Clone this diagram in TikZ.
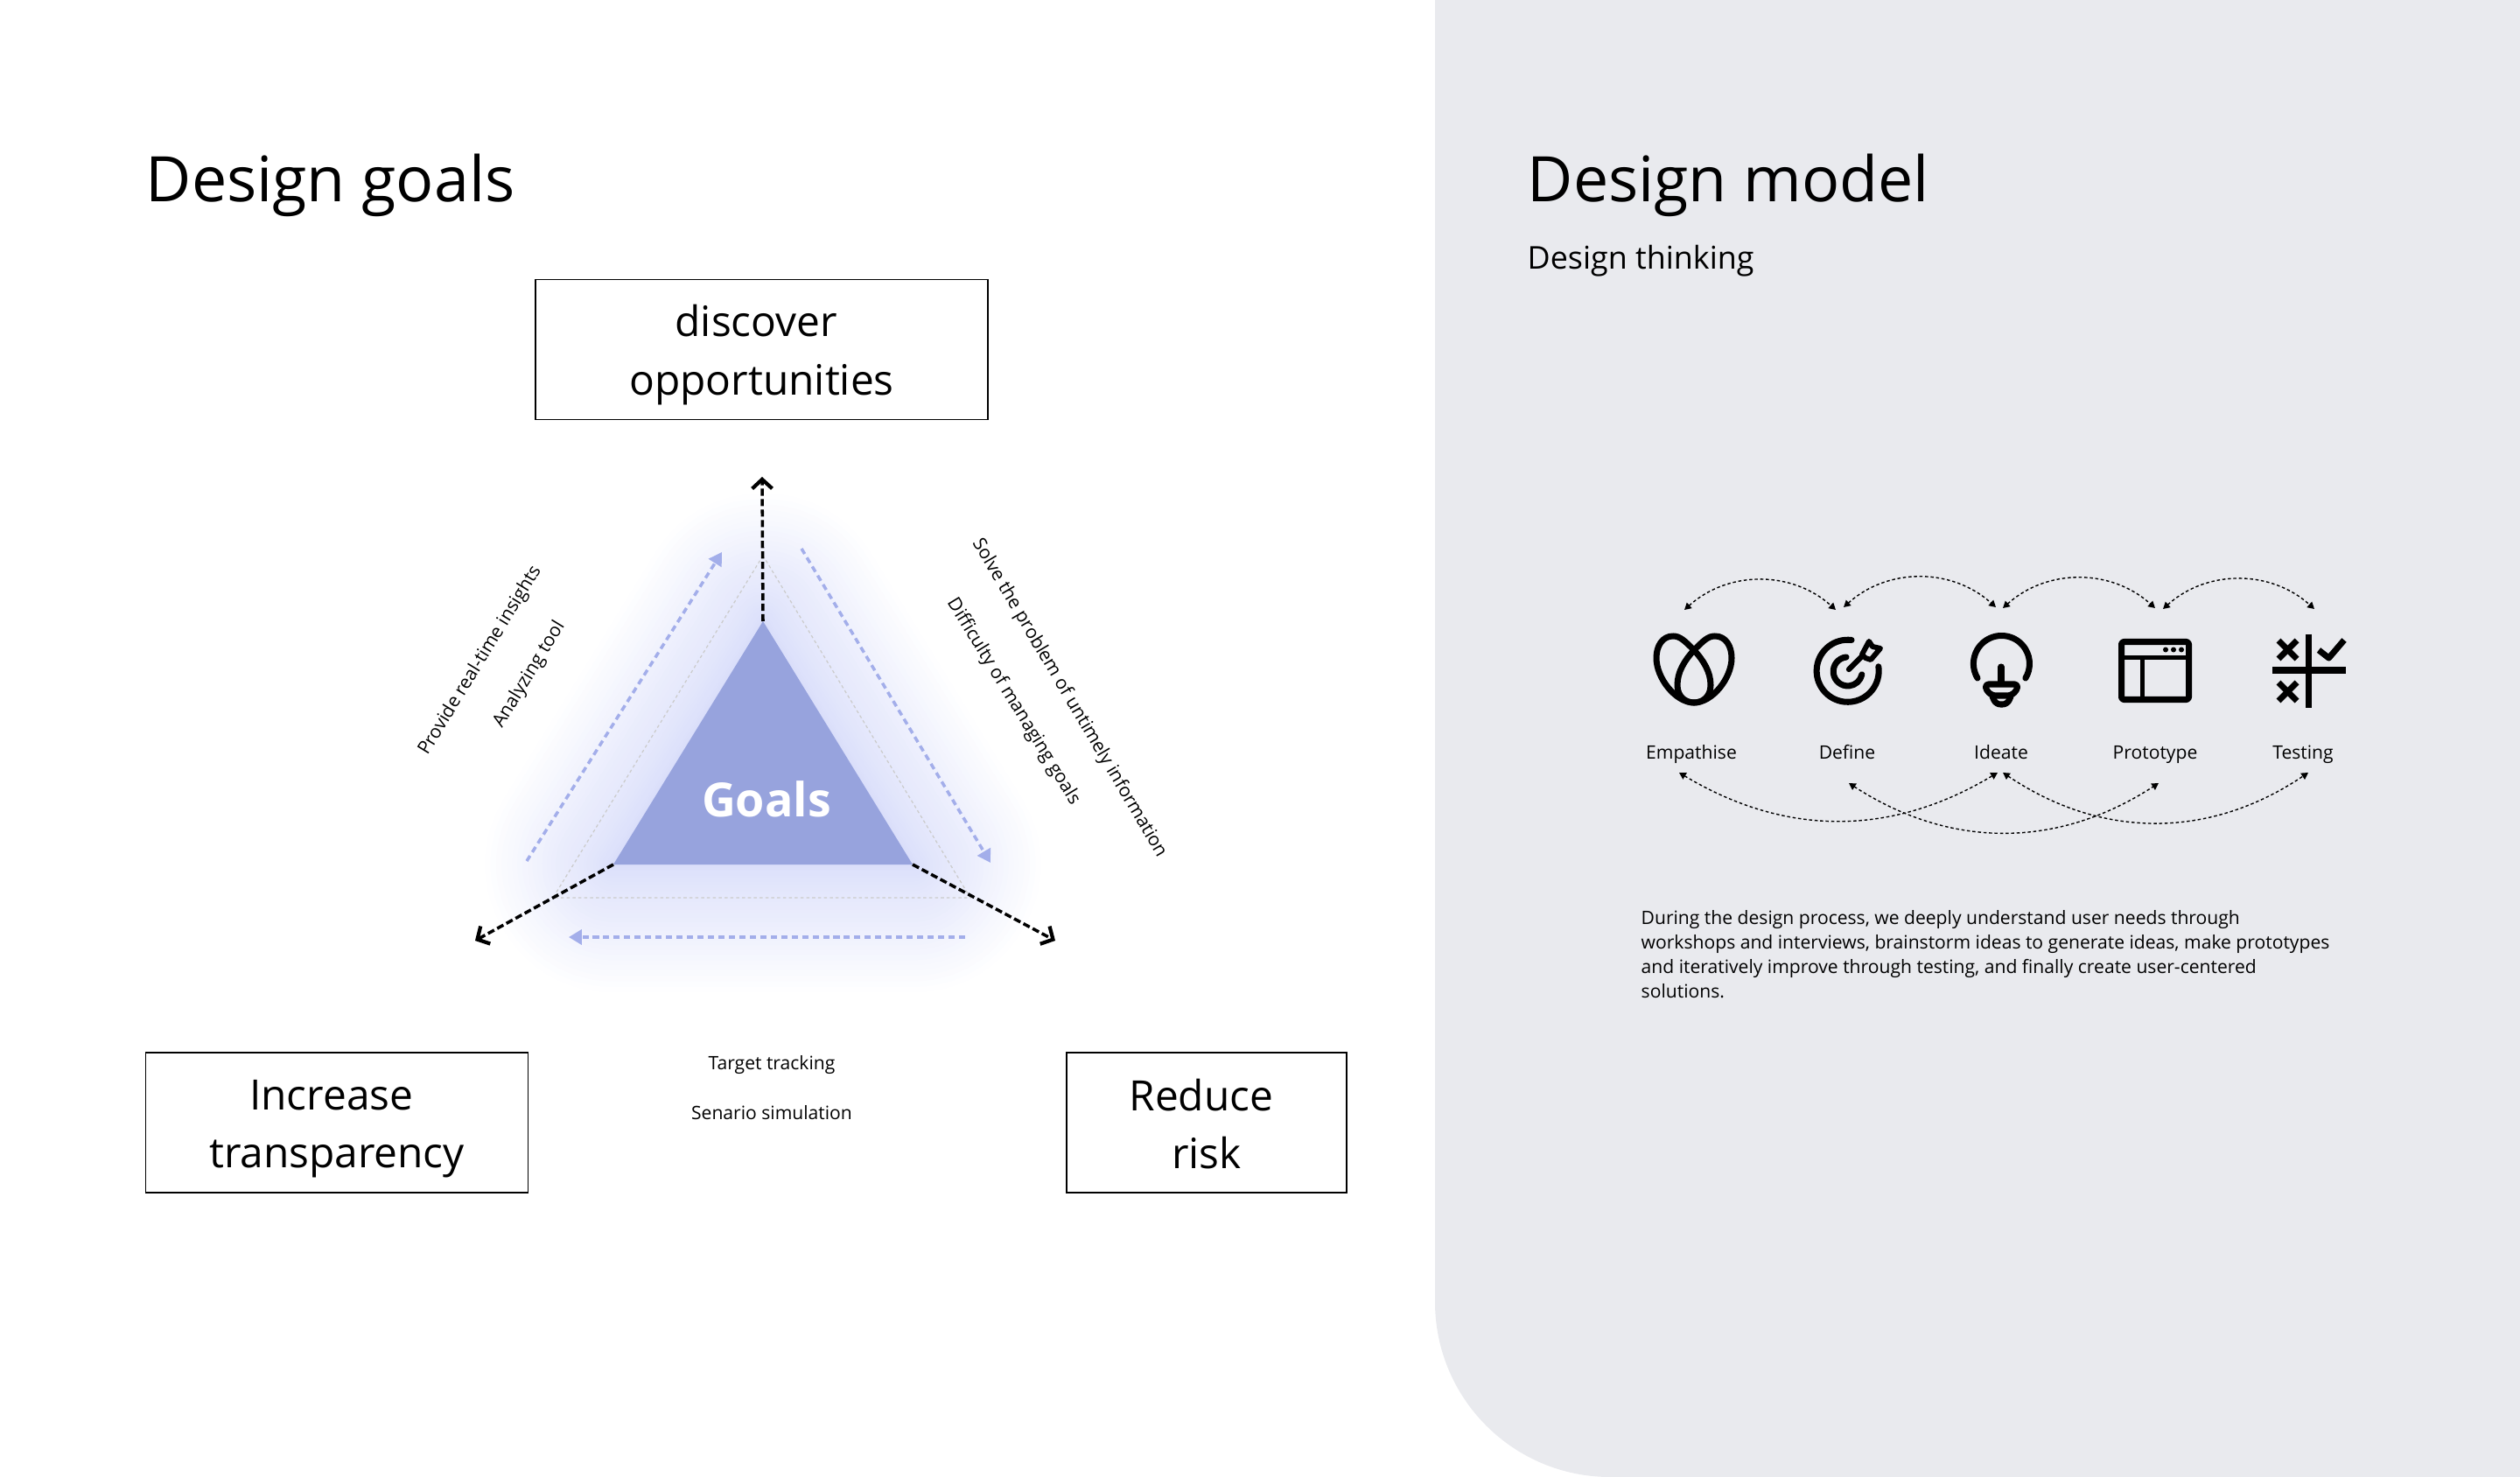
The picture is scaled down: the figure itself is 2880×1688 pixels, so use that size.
\documentclass[tikz,border=0pt]{standalone}
\usepackage{fontspec}
\setmainfont{Open Sans}
\usetikzlibrary{arrows.meta, positioning}
\definecolor{panelgray}{HTML}{E9EAEE}
\definecolor{goalblue}{HTML}{97A3DD}
\definecolor{flowblue}{HTML}{A3AEEA}
\definecolor{glowblue}{HTML}{8A98F0}
\definecolor{dotgray}{HTML}{CBCBCB}
\newcommand{\boxstrut}{\rule[-2.5pt]{0pt}{16.3pt}}
\begin{document}
\begin{tikzpicture}[
  x=0.01cm, y=-0.01cm,
  every node/.style={inner sep=0pt, text=black},
  title/.style={font=\fontsize{20.4pt}{26pt}\selectfont, anchor=base west},
  goalbox/.style={draw, line width=0.4pt, align=center, font=\fontsize{13.6pt}{18.8pt}\selectfont},
  note/.style={font=\fontsize{6pt}{7.95pt}\selectfont, align=left},
  axis/.style={line width=1pt, dash pattern=on 2.3pt off 1.1pt, -{Straight Barb[length=3pt,width=6.5pt,line width=1.2pt]}},
  flow/.style={draw=flowblue, line width=1pt, dash pattern=on 2pt off 1.4pt, -{Triangle[length=4.2pt,width=4.8pt]}},
  hop/.style={line width=0.4pt, dash pattern=on 1pt off 0.8pt, {Triangle[length=2.2pt,width=2.4pt]}-{Triangle[length=2.2pt,width=2.4pt]}},
  iconline/.style={line width=2pt, line cap=round, line join=round}
]
  \useasboundingbox (0,0) rectangle (2880,1688);
  \fill[panelgray] (2880,0) -- (1640,0) [rounded corners=2cm] -- (1640,1688) [sharp corners] -- (2880,1688) -- cycle;

  \node[title] (goalsTitle) at (166,231) {Design goals};
  \node[title] (modelTitle) at (1745,231) {Design model};
  \node[anchor=base west, font=\fontsize{10.2pt}{13pt}\selectfont] (thinking) at (1745,308) {Design thinking};

  \node[goalbox, minimum width=5.17cm, minimum height=1.60cm] (discover) at (870.5,399.5) {\boxstrut discover\hspace*{0.26em}\null\\\boxstrut opportunities};
  \node[goalbox, minimum width=4.37cm, minimum height=1.60cm] (increase) at (385,1283) {\boxstrut Increase\hspace*{0.26em}\null\\\boxstrut transparency};
  \node[goalbox, minimum width=3.20cm, minimum height=1.60cm] (reduce) at (1379,1283) {\boxstrut Reduce\hspace*{0.26em}\null\\\boxstrut risk};

  \coordinate (topV) at (872,710);
  \coordinate (leftV) at (701,988);
  \coordinate (rightV) at (1043,988);
  \foreach \k in {1,...,34} {
    \draw[glowblue, draw opacity=0.011, line join=round, line width={0.42*\k^1.5}] (topV) -- (leftV) -- (rightV) -- cycle;
  }
  \fill[goalblue] (topV) -- (leftV) -- (rightV) -- cycle;
  \draw[dotgray, line width=0.35pt, dash pattern=on 1pt off 0.9pt] (872,635) -- (632,1026) -- (1109,1026) -- cycle;
  \node[font=\fontsize{15.3pt}{20pt}\bfseries\selectfont, text=white] (goals) at (876,913) {Goals};

  \coordinate (topEnd) at (871,545);
  \coordinate (leftEnd) at (543,1075);
  \coordinate (rightEnd) at (1206,1075);
  \draw[axis] (topV) -- (topEnd);
  \draw[axis] (leftV) -- (leftEnd);
  \draw[axis] (rightV) -- (rightEnd);

  \coordinate (flowA) at (602,984);
  \coordinate (flowB) at (825,631);
  \coordinate (flowC) at (916,627);
  \coordinate (flowD) at (1132,986);
  \coordinate (flowE) at (1103,1071);
  \coordinate (flowF) at (650,1071);
  \draw[flow] (flowA) -- (flowB);
  \draw[flow] (flowC) -- (flowD);
  \draw[flow] (flowE) -- (flowF);

  \node[note, rotate=58.5] (insights) at (549,755) {Provide real-time insights};
  \node[note, rotate=58.5] (analyzing) at (605,771) {Analyzing tool};
  \node[note, rotate=-59.5] (untimely) at (1222,798) {Solve the problem of untimely information};
  \node[note, rotate=-58.5] (managing) at (1158,802) {Difficulty of managing goals};
  \node[note, anchor=base] (tracking) at (882,1222.5) {Target tracking};
  \node[note, anchor=base] (simulation) at (882,1279) {Senario simulation};

  \node[note, anchor=base] (empathise) at (1933,867) {Empathise};
  \node[note, anchor=base] (define) at (2111,867) {Define};
  \node[note, anchor=base] (ideate) at (2287,867) {Ideate};
  \node[note, anchor=base] (prototype) at (2463,867) {Prototype};
  \node[note, anchor=base] (testing) at (2632,867) {Testing};

  \node[note, anchor=north west] (process) at (1875,1039.5) {During the design process, we deeply understand user needs through\\workshops and interviews, brainstorm ideas to generate ideas, make prototypes\\and iteratively improve through testing, and finally create user-centered\\solutions.};

  \coordinate (empUp) at (1925,697);
  \coordinate (defUpL) at (2098,697);
  \coordinate (defUpR) at (2107,694);
  \coordinate (ideUpL) at (2281,694);
  \coordinate (ideUpR) at (2289,695);
  \coordinate (proUpL) at (2463,695);
  \coordinate (proUpR) at (2472,696);
  \coordinate (tesUp) at (2645,696);
  \draw[hop] (empUp) to[bend left=42] (defUpL);
  \draw[hop] (defUpR) to[bend left=42] (ideUpL);
  \draw[hop] (ideUpR) to[bend left=42] (proUpL);
  \draw[hop] (proUpR) to[bend left=42] (tesUp);

  \coordinate (empDown) at (1919,883);
  \coordinate (ideDownL) at (2283,883);
  \coordinate (defDown) at (2113,895);
  \coordinate (proDown) at (2467,895);
  \coordinate (ideDownR) at (2289,883);
  \coordinate (tesDown) at (2638,883);
  \draw[hop] (empDown) to[bend right=31] (ideDownL);
  \draw[hop] (defDown) to[bend right=33] (proDown);
  \draw[hop] (ideDownR) to[bend right=34] (tesDown);

  \draw[iconline] (1936,743) .. controls (1925,732) and (1920,727) .. (1912,727) .. controls (1900,727) and (1893,738) .. (1893,752) .. controls (1893,775) and (1915,803) .. (1936,803) .. controls (1957,803) and (1979,775) .. (1979,752) .. controls (1979,738) and (1972,727) .. (1960,727) .. controls (1952,727) and (1947,732) .. (1936,743);
  \draw[iconline] (1936,743) .. controls (1925,755) and (1917,768) .. (1917,783) .. controls (1917,796) and (1926,803) .. (1936,803) .. controls (1946,803) and (1955,796) .. (1955,783) .. controls (1955,768) and (1947,755) .. (1936,743);

  \draw[iconline] (2116,731.5) arc[start angle=83, end angle=368, radius=0.355cm];
  \draw[iconline] (2110,751) arc[start angle=96, end angle=348, radius=0.165cm];
  \draw[iconline, line width=1.8pt] (2113,765) -- (2128,750);
  \draw[iconline, line width=1.7pt] (2128,748) -- (2136,733) -- (2140,739) -- (2149,741) -- (2138,754) -- (2132,752) -- cycle;

  \draw[iconline] (2260,775) arc[start angle=211, end angle=-31, radius=0.32cm];
  \draw[iconline] (2287,762) -- (2287,780);
  \draw[iconline, rounded corners=1pt] (2269,782) -- (2306,782) -- (2305,789) -- (2298,795) -- (2277,795) -- (2270,789) -- cycle;
  \draw[iconline, rounded corners=1.5pt] (2277,796) -- (2281,805) -- (2294,805) -- (2298,796);

  \draw[iconline, rounded corners=0.8pt] (2424.5,733.5) rectangle (2501.5,799.5);
  \draw[iconline, line cap=butt, line width=1.6pt] (2424.5,751.5) -- (2501.5,751.5);
  \draw[iconline, line cap=butt, line width=1.6pt] (2448.5,751.5) -- (2448.5,799.5);
  \fill (2475,742.5) circle[radius=0.03cm];
  \fill (2484,742.5) circle[radius=0.03cm];
  \fill (2493,742.5) circle[radius=0.03cm];

  \draw[iconline, line cap=butt] (2638.5,724.5) -- (2638.5,808.5);
  \draw[iconline, line cap=butt] (2597,766) -- (2681,766);
  \draw[iconline, line cap=butt] (2604,732) -- (2625,753);
  \draw[iconline, line cap=butt] (2604,753) -- (2625,732);
  \draw[iconline, line cap=butt] (2604,780) -- (2625,801);
  \draw[iconline, line cap=butt] (2604,801) -- (2625,780);
  \draw[iconline, line cap=butt] (2650,743) -- (2661.5,752) -- (2679,731.5);
\end{tikzpicture}
\end{document}
